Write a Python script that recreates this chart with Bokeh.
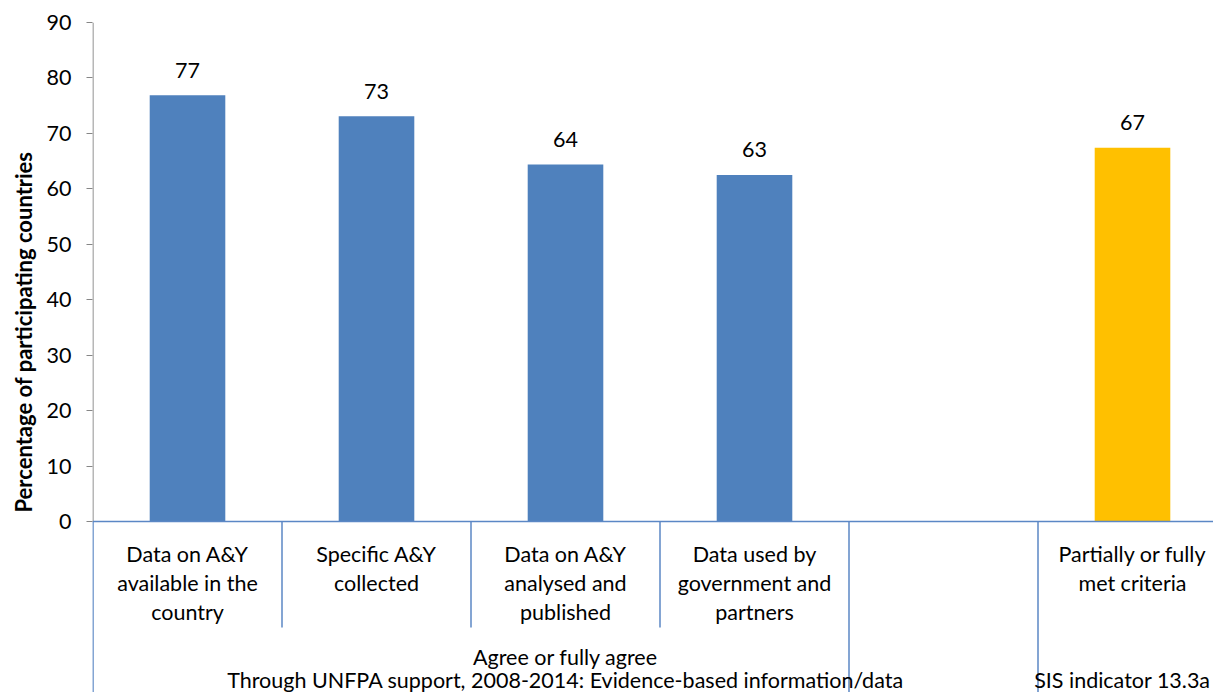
import math
from bokeh.plotting import figure
from bokeh.models import FixedTicker, Title
from bokeh.core.properties import value
from bokeh.embed import file_html
from bokeh.resources import INLINE

# ---------------- data ----------------
values = [76.9, 73.1, 64.4, 62.5, None, 67.4]
value_labels = ["77", "73", "64", "63", "", "67"]
bar_colors = ["#4F81BD", "#4F81BD", "#4F81BD", "#4F81BD", None, "#FFC000"]
level1 = [
    "Data on A&Y\navailable in the\ncountry",
    "Specific A&Y\ncollected",
    "Data on A&Y\nanalysed and\npublished",
    "Data used by\ngovernment and\npartners",
    "",
    "Partially or fully\nmet criteria",
]
level2 = ["Agree or fully agree", ""]
level3 = ["Through UNFPA support, 2008-2014: Evidence-based information/data",
          "SIS indicator 13.3a"]
group_spans = [(0, 5), (5, 6)]
y_ticks = [0, 10, 20, 30, 40, 50, 60, 70, 80, 90]
y_title = "Percentage of participating countries"

# ---------------- layout ----------------
FONT = "Lato"
FS = "21.5px"
W, H = 1213, 692
LEFT = 92          # canvas px of frame left
TOP = 22
SLOT = 189.0       # px per category slot
PX_PER_UNIT = 499.0 / 90.0
x0 = -0.5 / SLOT
x1 = x0 + (W - LEFT) / SLOT
ytop = 90.0
ybot = ytop - (H - TOP) / PX_PER_UNIT

def py(yy):
    """canvas y (px) -> data y"""
    return (521.0 - yy) / PX_PER_UNIT

p = figure(width=W, height=H, x_range=(x0, x1), y_range=(ybot, ytop),
           x_axis_type=None, toolbar_location=None, output_backend="svg",
           min_border_left=LEFT, min_border_right=0, min_border_top=TOP,
           min_border_bottom=0)
p.outline_line_color = None
p.grid.visible = False
p.background_fill_color = "white"
p.border_fill_color = "white"

ax = p.yaxis[0]
ax.ticker = FixedTicker(ticks=y_ticks)
ax.axis_line_color = None
ax.major_tick_line_color = "#868686"
ax.major_tick_out = 6
ax.major_tick_in = 0
ax.minor_tick_line_color = None
ax.major_label_text_font = FONT
ax.major_label_text_font_size = FS
ax.major_label_text_color = "black"
ax.major_label_standoff = 15

# y axis title
p.add_layout(Title(text=y_title, align="left", offset=180, standoff=13,
                   text_font=FONT, text_font_size="22px", text_font_style="bold",
                   text_color="black"), "left")

# y axis line (gray) from 0 to 90
p.segment(x0=[0], y0=[0], x1=[0], y1=[90], line_color="#868686", line_width=1.2)

# bars
xs, tops, cols = [], [], []
for i, v in enumerate(values):
    if v is not None:
        xs.append(i + 0.5); tops.append(v); cols.append(bar_colors[i])
p.vbar(x=xs, top=tops, bottom=0, width=0.4, fill_color=cols, line_color=None)

# value labels
lx, ly, lt = [], [], []
for i, v in enumerate(values):
    if v is not None:
        lx.append(i + 0.5); ly.append(v + 25 / PX_PER_UNIT); lt.append(value_labels[i])
p.text(x=lx, y=ly, text=lt, text_align="center", text_baseline="middle",
       text_font=value(FONT), text_font_size=FS, text_color="black")

# separators
AX_COLOR = "#5B87C5"
full_bounds = [0, 4, 5]
inner_bounds = [1, 2, 3]
p.segment(x0=full_bounds, y0=[0] * len(full_bounds), x1=full_bounds,
          y1=[ybot - 5] * len(full_bounds), line_color=AX_COLOR, line_width=1.5)
p.segment(x0=inner_bounds, y0=[0] * len(inner_bounds), x1=inner_bounds,
          y1=[py(627)] * len(inner_bounds), line_color=AX_COLOR, line_width=1.5)
# x axis line
p.segment(x0=[x0], y0=[0], x1=[x1 + 1], y1=[0], line_color=AX_COLOR, line_width=1.5)

# level 1 labels
tx, ty, tt = [], [], []
line_rows = [553, 582, 611]
for i, lab in enumerate(level1):
    if not lab:
        continue
    for j, line in enumerate(lab.split("\n")):
        tx.append(i + 0.5); ty.append(py(line_rows[j])); tt.append(line)
p.text(x=tx, y=ty, text=tt, text_align="center", text_baseline="middle",
       text_font=value(FONT), text_font_size=FS, text_color="black")

# level 2 and level 3 labels (last group's label kept inside the right edge)
gx = [(s + e) / 2 for s, e in group_spans]
p.text(x=gx, y=[py(656)] * 2, text=level2, text_align="center", text_baseline="middle",
       text_font=value(FONT), text_font_size=FS, text_color="black")
l3x = gx[:-1] + [x1 - 3 / SLOT]
l3align = ["center"] * (len(gx) - 1) + ["right"]
p.text(x=l3x, y=[py(679)] * 2, text=level3, text_align=l3align, text_baseline="middle",
       text_font=value(FONT), text_font_size=FS, text_color="black")

open("out.html", "w").write(file_html(p, INLINE))
